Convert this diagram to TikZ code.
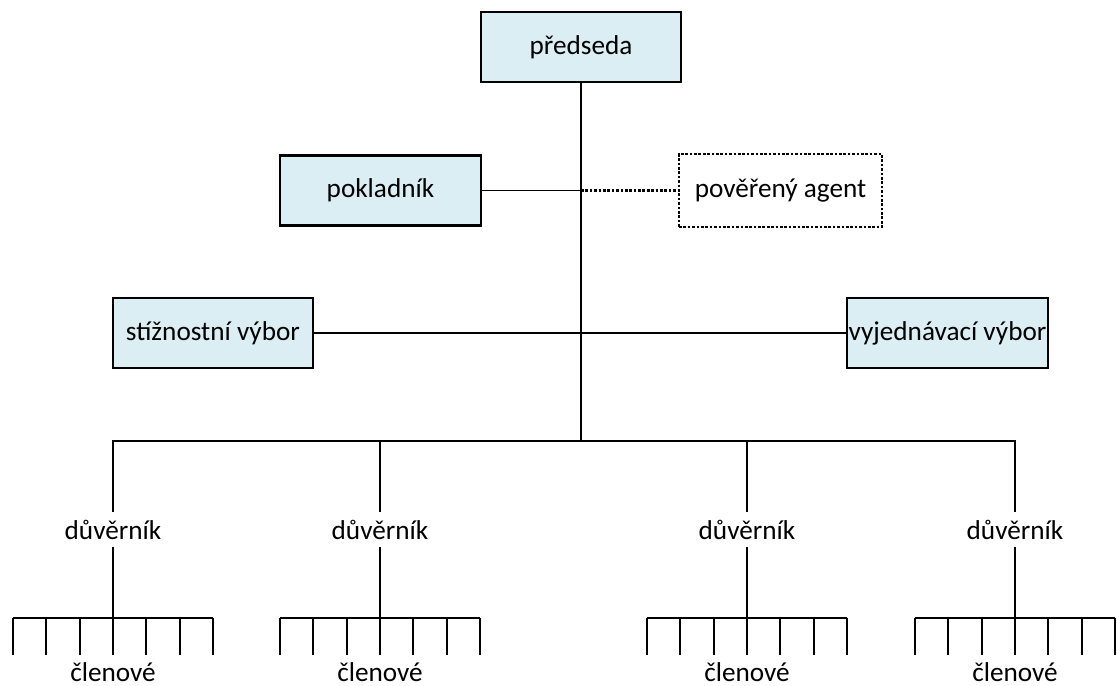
\documentclass[tikz,border=0pt]{standalone}
\usepackage{fontspec}
\setmainfont{Carlito}
\usepackage{tikz}
\usetikzlibrary{calc}
\definecolor{boxblue}{HTML}{DAEEF3}
\tikzstyle{box} = [draw,fill=boxblue,line width=1.2pt,inner sep=0pt,minimum width=4cm,minimum height=1.4cm]
\tikzstyle{dashbox} = [draw,fill=white,line width=1.3pt,dash pattern=on 1.5pt off 1pt,inner sep=0pt,minimum width=4.06cm,minimum height=1.46cm]
\tikzstyle{lbl} = [inner sep=0pt,minimum height=0.7cm]
\tikzstyle{line} = [line width=1.1pt]

\begin{document}
\begin{tikzpicture}[x=0.02cm,y=-0.02cm,font=\fontsize{15.5}{18}\selectfont]
  \useasboundingbox (0,0) rectangle (1117,686);
  \node[box] (predseda) at (581,47) {předseda};
  \node[box,minimum width=4.02cm] (pokladnik) at (380.5,190.5) {pokladník};
  \node[dashbox] (agent) at (780.5,190.5) {pověřený agent};
  \node[box] (stiznost) at (213,333) {stížnostní výbor};
  \node[box,minimum width=4.02cm] (vyjednavani) at (947.5,333) {vyjednávací výbor};
  \coordinate (bus) at (581,441);
  \node[lbl] (d1) at (113,529.5) {důvěrník};
  \node[lbl] (d2) at (380,529.5) {důvěrník};
  \node[lbl] (d3) at (747,529.5) {důvěrník};
  \node[lbl] (d4) at (1015,529.5) {důvěrník};
  \node (c1) at (113,672) {členové};
  \node (c2) at (380,672) {členové};
  \node (c3) at (747,672) {členové};
  \node (c4) at (1015,672) {členové};
 \draw [line] (predseda) -- (bus);
 \draw [line] (pokladnik) -- (pokladnik -| predseda);
 \draw [line,line width=1.3pt,dash pattern=on 1.5pt off 1pt] (pokladnik -| predseda) -- (agent);
 \draw [line] (stiznost) -- (vyjednavani);
 \draw [line] (d1.north) -- (d1.north |- bus) -- (d4.north |- bus) -- (d4.north);
 \draw [line] (d2.north) -- (d2.north |- bus);
 \draw [line] (d3.north) -- (d3.north |- bus);
 % combs of members
 \foreach \d in {d1,d2,d3,d4} {
   \coordinate (top) at ($(\d.south)+(0,71)$);
   \draw [line] (\d.south) -- (top);
   \draw [line] ($(top)+(-100,0)$) -- ($(top)+(100,0)$);
   \foreach \i in {-3,...,3}
     \draw [line] ($(top)+(\i*33.4,0)$) -- ++(0,37);
 }
\end{tikzpicture}
\end{document}
